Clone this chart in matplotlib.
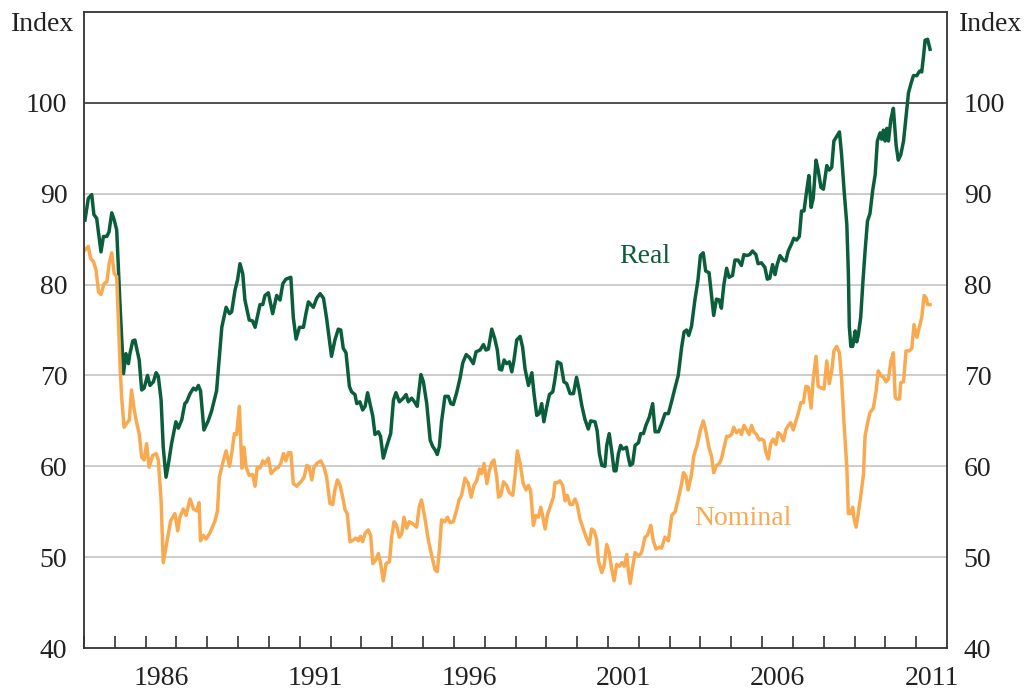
import matplotlib
matplotlib.use('Agg')
import matplotlib.pyplot as plt
import numpy as np

plt.rcParams['font.family'] = ['Liberation Serif', 'DejaVu Serif']

# 实际指数（日期为小数年份）
real_dates = [
    1984.03, 1984.14, 1984.25, 1984.32, 1984.41, 1984.55, 1984.63, 1984.74, 1984.81, 1984.90,
    1984.98, 1985.06, 1985.17, 1985.28, 1985.36, 1985.44, 1985.49, 1985.58, 1985.65, 1985.79,
    1985.87, 1985.95, 1986.06, 1986.14, 1986.25, 1986.34, 1986.41, 1986.50, 1986.57, 1986.66,
    1986.74, 1986.84, 1986.98, 1987.06, 1987.17, 1987.27, 1987.33, 1987.44, 1987.55, 1987.63,
    1987.71, 1987.78, 1987.89, 1988.03, 1988.14, 1988.30, 1988.47, 1988.61, 1988.72, 1988.79,
    1988.90, 1988.98, 1989.06, 1989.15, 1989.22, 1989.36, 1989.47, 1989.55, 1989.71, 1989.80,
    1989.87, 1989.98, 1990.12, 1990.25, 1990.36, 1990.45, 1990.55, 1990.71, 1990.79, 1990.88,
    1990.99, 1991.12, 1991.20, 1991.28, 1991.44, 1991.55, 1991.66, 1991.77, 1991.87, 1992.03,
    1992.14, 1992.25, 1992.33, 1992.41, 1992.50, 1992.61, 1992.68, 1992.79, 1992.85, 1992.95,
    1993.04, 1993.12, 1993.20, 1993.28, 1993.37, 1993.44, 1993.55, 1993.62, 1993.71, 1993.82,
    1993.95, 1994.04, 1994.12, 1994.23, 1994.36, 1994.45, 1994.52, 1994.63, 1994.72, 1994.81,
    1994.93, 1995.01, 1995.12, 1995.23, 1995.31, 1995.39, 1995.46, 1995.53, 1995.60, 1995.71,
    1995.82, 1995.90, 1995.98, 1996.09, 1996.20, 1996.29, 1996.40, 1996.50, 1996.63, 1996.72,
    1996.85, 1996.96, 1997.04, 1997.12, 1997.23, 1997.33, 1997.41, 1997.48, 1997.55, 1997.63,
    1997.71, 1997.80, 1997.88, 1997.95, 1998.04, 1998.15, 1998.23, 1998.31, 1998.42, 1998.53,
    1998.60, 1998.69, 1998.77, 1998.85, 1998.92, 1999.01, 1999.10, 1999.21, 1999.28, 1999.36,
    1999.47, 1999.57, 1999.66, 1999.77, 1999.88, 1999.98, 2000.07, 2000.15, 2000.25, 2000.36,
    2000.44, 2000.58, 2000.65, 2000.72, 2000.80, 2000.90, 2000.96, 2001.04, 2001.12, 2001.20,
    2001.26, 2001.34, 2001.41, 2001.48, 2001.55, 2001.60, 2001.66, 2001.72, 2001.80, 2001.88,
    2001.99, 2002.06, 2002.15, 2002.23, 2002.34, 2002.45, 2002.53, 2002.64, 2002.74, 2002.85,
    2002.96, 2003.07, 2003.18, 2003.28, 2003.39, 2003.47, 2003.55, 2003.62, 2003.71, 2003.82,
    2003.92, 2004.00, 2004.09, 2004.17, 2004.28, 2004.36, 2004.43, 2004.52, 2004.61, 2004.68,
    2004.76, 2004.85, 2004.93, 2005.04, 2005.12, 2005.22, 2005.33, 2005.41, 2005.50, 2005.60,
    2005.69, 2005.80, 2005.87, 2005.98, 2006.09, 2006.17, 2006.25, 2006.34, 2006.42, 2006.49,
    2006.58, 2006.69, 2006.77, 2006.85, 2006.96, 2007.03, 2007.12, 2007.21, 2007.28, 2007.36,
    2007.45, 2007.52, 2007.59, 2007.66, 2007.75, 2007.82, 2007.91, 2007.99, 2008.10, 2008.18,
    2008.26, 2008.33, 2008.42, 2008.51, 2008.58, 2008.66, 2008.75, 2008.80, 2008.83, 2008.88,
    2008.94, 2009.02, 2009.07, 2009.12, 2009.20, 2009.27, 2009.34, 2009.42, 2009.50, 2009.59,
    2009.67, 2009.74, 2009.83, 2009.88, 2009.94, 2009.99, 2010.05, 2010.10, 2010.18, 2010.26,
    2010.35, 2010.42, 2010.50, 2010.59, 2010.67, 2010.75, 2010.83, 2010.91, 2011.02, 2011.11,
    2011.18, 2011.24, 2011.29, 2011.37, 2011.45,
]
real_values = [
    87.1, 89.5, 89.9, 87.7, 87.3, 83.6, 85.3, 85.3, 85.8, 87.9,
    87.1, 86.0, 77.6, 70.2, 72.4, 71.3, 72.4, 73.8, 73.9, 71.7,
    68.4, 68.6, 70.0, 68.9, 69.3, 70.3, 69.9, 67.3, 62.1, 58.8,
    60.3, 62.5, 64.9, 64.2, 65.1, 66.9, 67.1, 68.0, 68.6, 68.4,
    68.9, 68.3, 64.0, 65.0, 66.1, 68.3, 75.3, 77.5, 76.8, 77.0,
    79.4, 80.5, 82.3, 81.2, 78.3, 76.1, 76.0, 75.3, 77.8, 77.8,
    78.8, 79.1, 76.8, 78.8, 78.3, 80.1, 80.6, 80.8, 76.4, 74.0,
    75.3, 75.3, 76.8, 78.1, 77.5, 78.5, 79.0, 78.5, 76.3, 72.1,
    73.9, 75.1, 75.0, 73.0, 72.5, 68.8, 68.2, 67.9, 66.9, 67.1,
    66.2, 66.6, 68.1, 66.9, 65.5, 63.5, 63.8, 63.3, 60.9, 62.2,
    63.6, 67.3, 68.1, 67.1, 67.5, 67.9, 67.1, 67.5, 67.1, 66.6,
    70.1, 69.3, 66.9, 62.9, 62.2, 61.8, 61.3, 62.2, 64.9, 67.7,
    67.7, 66.9, 66.8, 68.1, 69.7, 71.4, 72.3, 72.0, 71.3, 72.6,
    72.8, 73.4, 72.8, 72.9, 75.1, 74.0, 72.8, 70.7, 70.6, 71.7,
    71.3, 71.5, 70.4, 71.7, 73.9, 74.3, 73.1, 70.7, 68.9, 70.3,
    68.0, 65.6, 65.8, 66.9, 64.9, 66.5, 67.9, 68.2, 69.6, 71.5,
    71.3, 69.3, 69.1, 68.0, 68.0, 69.8, 68.3, 66.7, 65.2, 64.1,
    65.0, 64.9, 63.9, 61.4, 60.1, 60.0, 62.3, 63.6, 61.7, 59.5,
    59.5, 61.4, 62.3, 61.9, 62.0, 62.1, 61.0, 60.1, 60.3, 62.3,
    62.6, 63.6, 63.6, 64.5, 65.4, 66.9, 63.8, 63.8, 64.7, 65.8,
    65.8, 67.2, 68.7, 70.0, 73.1, 74.8, 75.0, 74.4, 75.4, 78.3,
    80.5, 83.2, 83.5, 81.5, 81.3, 78.8, 76.6, 78.4, 78.3, 77.4,
    80.0, 81.8, 80.8, 81.0, 82.7, 82.7, 82.1, 83.3, 83.2, 83.3,
    83.7, 83.3, 82.3, 82.4, 81.9, 80.6, 80.7, 82.2, 81.1, 82.2,
    83.2, 82.7, 82.6, 83.7, 84.5, 85.1, 84.9, 85.3, 88.1, 88.1,
    90.4, 92.0, 88.5, 89.5, 93.7, 92.6, 90.7, 90.5, 93.1, 92.6,
    92.9, 95.8, 96.3, 96.8, 94.3, 90.4, 86.6, 81.2, 75.4, 73.2,
    73.2, 74.9, 73.7, 74.4, 76.4, 80.2, 83.6, 87.0, 87.8, 90.4,
    92.1, 95.8, 96.7, 96.0, 97.0, 95.8, 97.2, 95.8, 98.2, 99.4,
    95.3, 93.7, 94.3, 95.8, 98.4, 101.1, 102.1, 103.0, 103.0, 103.5,
    103.4, 105.2, 106.9, 107.0, 105.9,
]

# 名义指数
nominal_dates = [
    1984.03, 1984.14, 1984.21, 1984.31, 1984.39, 1984.47, 1984.55, 1984.65, 1984.74, 1984.82,
    1984.90, 1984.98, 1985.06, 1985.17, 1985.22, 1985.30, 1985.38, 1985.47, 1985.54, 1985.63,
    1985.70, 1985.79, 1985.87, 1985.95, 1986.03, 1986.11, 1986.23, 1986.34, 1986.41, 1986.50,
    1986.57, 1986.66, 1986.74, 1986.81, 1986.95, 1987.04, 1987.11, 1987.22, 1987.31, 1987.44,
    1987.55, 1987.66, 1987.73, 1987.78, 1987.87, 1987.96, 1988.09, 1988.25, 1988.33, 1988.39,
    1988.52, 1988.61, 1988.72, 1988.79, 1988.88, 1988.95, 1989.04, 1989.12, 1989.19, 1989.26,
    1989.36, 1989.47, 1989.55, 1989.62, 1989.71, 1989.80, 1989.87, 1989.98, 1990.07, 1990.20,
    1990.31, 1990.38, 1990.47, 1990.55, 1990.63, 1990.71, 1990.79, 1990.90, 1991.06, 1991.14,
    1991.23, 1991.31, 1991.39, 1991.46, 1991.55, 1991.68, 1991.79, 1991.87, 1991.98, 1992.07,
    1992.14, 1992.22, 1992.31, 1992.41, 1992.47, 1992.54, 1992.63, 1992.74, 1992.82, 1992.90,
    1992.97, 1993.04, 1993.12, 1993.22, 1993.30, 1993.37, 1993.47, 1993.55, 1993.62, 1993.71,
    1993.80, 1993.91, 1993.98, 1994.06, 1994.14, 1994.23, 1994.31, 1994.38, 1994.47, 1994.55,
    1994.66, 1994.79, 1994.88, 1994.95, 1995.06, 1995.17, 1995.28, 1995.39, 1995.46, 1995.53,
    1995.60, 1995.71, 1995.79, 1995.88, 1995.98, 1996.09, 1996.17, 1996.25, 1996.36, 1996.47,
    1996.56, 1996.65, 1996.74, 1996.83, 1996.90, 1996.98, 1997.07, 1997.15, 1997.23, 1997.30,
    1997.39, 1997.45, 1997.52, 1997.61, 1997.71, 1997.80, 1997.91, 1997.98, 1998.06, 1998.15,
    1998.25, 1998.34, 1998.42, 1998.49, 1998.58, 1998.66, 1998.74, 1998.82, 1998.89, 1998.96,
    1999.03, 1999.12, 1999.23, 1999.28, 1999.36, 1999.44, 1999.53, 1999.61, 1999.68, 1999.77,
    1999.85, 1999.93, 2000.00, 2000.09, 2000.20, 2000.29, 2000.39, 2000.47, 2000.55, 2000.63,
    2000.69, 2000.80, 2000.88, 2000.96, 2001.04, 2001.12, 2001.20, 2001.28, 2001.37, 2001.45,
    2001.53, 2001.61, 2001.66, 2001.72, 2001.80, 2001.88, 2001.99, 2002.09, 2002.20, 2002.28,
    2002.39, 2002.47, 2002.56, 2002.67, 2002.74, 2002.85, 2002.96, 2003.07, 2003.18, 2003.28,
    2003.39, 2003.45, 2003.53, 2003.60, 2003.71, 2003.78, 2003.89, 2004.00, 2004.09, 2004.17,
    2004.28, 2004.36, 2004.43, 2004.52, 2004.61, 2004.68, 2004.76, 2004.85, 2004.93, 2005.01,
    2005.08, 2005.17, 2005.26, 2005.33, 2005.41, 2005.50, 2005.58, 2005.66, 2005.73, 2005.82,
    2005.91, 2005.98, 2006.06, 2006.12, 2006.20, 2006.28, 2006.36, 2006.45, 2006.52, 2006.60,
    2006.69, 2006.77, 2006.85, 2006.93, 2007.01, 2007.10, 2007.18, 2007.26, 2007.34, 2007.42,
    2007.50, 2007.59, 2007.66, 2007.75, 2007.82, 2007.93, 2008.01, 2008.10, 2008.18, 2008.26,
    2008.33, 2008.42, 2008.51, 2008.58, 2008.66, 2008.75, 2008.80, 2008.88, 2008.94, 2008.98,
    2009.05, 2009.12, 2009.20, 2009.29, 2009.34, 2009.42, 2009.50, 2009.61, 2009.70, 2009.77,
    2009.85, 2009.94, 2010.02, 2010.10, 2010.18, 2010.26, 2010.32, 2010.37, 2010.46, 2010.50,
    2010.59, 2010.67, 2010.78, 2010.86, 2010.93, 2011.02, 2011.11, 2011.18, 2011.26, 2011.33,
    2011.37, 2011.45,
]
nominal_values = [
    83.8, 84.2, 82.9, 82.5, 81.6, 79.2, 78.9, 80.1, 80.3, 82.4,
    83.5, 81.2, 80.9, 71.0, 67.6, 64.3, 64.7, 65.1, 68.4, 66.2,
    64.9, 63.6, 61.0, 60.7, 62.5, 59.9, 61.2, 61.4, 60.7, 56.3,
    49.4, 51.1, 52.6, 54.0, 54.8, 52.9, 54.4, 55.3, 54.6, 56.4,
    55.3, 55.1, 56.0, 51.8, 52.4, 52.0, 52.7, 54.0, 55.1, 58.8,
    60.6, 61.7, 60.0, 61.4, 63.6, 63.5, 66.6, 59.8, 62.1, 59.9,
    59.0, 59.1, 57.8, 59.9, 59.8, 60.6, 60.3, 60.9, 59.2, 59.7,
    59.9, 60.3, 61.4, 60.6, 61.5, 61.5, 58.1, 57.8, 58.4, 58.8,
    60.1, 59.9, 58.5, 59.9, 60.3, 60.6, 59.9, 58.8, 55.9, 55.8,
    57.4, 58.5, 57.9, 56.3, 55.2, 54.8, 51.7, 51.9, 52.1, 51.8,
    52.3, 51.7, 52.6, 53.0, 52.4, 49.3, 49.7, 50.4, 49.4, 47.4,
    49.3, 49.5, 52.2, 53.9, 53.5, 52.2, 52.6, 54.4, 53.2, 53.9,
    53.7, 53.3, 55.6, 56.3, 54.3, 51.9, 50.2, 48.6, 48.4, 50.8,
    54.1, 53.9, 54.4, 53.8, 53.9, 55.2, 56.3, 56.8, 58.7, 58.1,
    56.6, 57.9, 58.4, 59.7, 59.2, 60.3, 58.1, 59.5, 60.4, 60.7,
    58.8, 56.6, 56.8, 58.3, 57.9, 57.1, 56.8, 58.8, 61.7, 60.3,
    58.1, 57.4, 57.9, 57.3, 53.5, 54.6, 54.4, 55.5, 54.4, 53.1,
    54.6, 55.5, 56.6, 58.2, 58.2, 58.4, 57.9, 56.2, 56.8, 55.8,
    55.8, 56.4, 55.8, 54.2, 53.1, 52.2, 51.4, 53.1, 52.9, 52.0,
    49.6, 48.3, 49.2, 51.4, 50.5, 48.7, 47.4, 49.2, 49.0, 49.4,
    49.0, 50.3, 48.5, 47.1, 48.9, 50.5, 50.1, 50.5, 52.2, 52.4,
    53.5, 51.8, 50.9, 51.1, 51.0, 52.2, 51.8, 54.6, 55.0, 56.4,
    58.1, 59.3, 58.9, 57.4, 59.1, 61.1, 62.3, 64.0, 65.0, 64.0,
    62.0, 61.1, 59.3, 60.1, 60.3, 60.8, 62.0, 63.3, 63.3, 63.5,
    64.3, 63.7, 64.0, 63.5, 64.5, 64.0, 63.5, 64.5, 63.8, 63.5,
    62.9, 63.0, 62.8, 61.6, 60.8, 62.5, 63.0, 62.4, 63.7, 63.5,
    62.8, 64.0, 64.5, 64.8, 64.0, 65.0, 65.9, 67.0, 67.0, 68.8,
    68.7, 66.4, 69.6, 72.1, 68.8, 68.6, 68.5, 71.6, 69.1, 70.5,
    72.7, 73.2, 72.5, 69.6, 64.7, 59.9, 54.8, 54.8, 55.5, 54.3,
    53.3, 54.8, 56.7, 59.1, 63.3, 64.7, 65.9, 66.4, 68.3, 70.5,
    70.0, 69.8, 69.3, 69.6, 71.6, 72.5, 67.6, 67.4, 67.4, 69.2,
    69.3, 72.7, 72.7, 73.0, 75.6, 74.2, 75.4, 76.4, 78.8, 78.5,
    77.8, 77.8,
]

tick_years = list(range(1984, 2012))
label_years = [1986, 1991, 1996, 2001, 2006, 2011]
y_ticks = [40, 50, 60, 70, 80, 90, 100]

real_color = '#0b5e3c'
nominal_color = '#f9aa50'

fig = plt.figure(figsize=(10.26, 6.91), dpi=100)
ax = fig.add_axes([0.0819, 0.0622, 0.8411, 0.9204])

ax.plot(real_dates, real_values, color=real_color, linewidth=2.5)
ax.plot(nominal_dates, nominal_values, color=nominal_color, linewidth=2.5)

ax.set_xlim(1984, 2012)
ax.set_ylim(40, 110)

# 网格线：50~90 灰色，100 黑色
for v in y_ticks[1:-1]:
    ax.axhline(v, color='#c4c4c4', linewidth=1.2, zorder=0)
ax.axhline(100, color='#222222', linewidth=1.1, zorder=0)

# x 轴：每年一个刻度，标签放在年份中间
ax.set_xticks(tick_years)
ax.set_xticklabels([])
ax.set_xticks([y + 0.5 for y in label_years], minor=True)
ax.set_xticklabels([str(y) for y in label_years], minor=True, fontsize=20, color='#222222')
ax.tick_params(axis='x', which='major', direction='in', length=9, width=1.2, color='#333333')
ax.tick_params(axis='x', which='minor', length=0, pad=13)

# 左右两侧都有 y 轴标签
ax.set_yticks(y_ticks)
ax.set_yticklabels([str(v) for v in y_ticks], fontsize=20, color='#222222')
ax.tick_params(axis='y', length=0, pad=12, labelright=True, labelleft=True)

for sp in ax.spines.values():
    sp.set_color('#333333')
    sp.set_linewidth(1.3)

ax.text(-0.048, 0.98, 'Index', transform=ax.transAxes, ha='center', va='center',
        fontsize=20, color='#222222')
ax.text(1.05, 0.98, 'Index', transform=ax.transAxes, ha='center', va='center',
        fontsize=20, color='#222222')

ax.text(2002.2, 83.1, 'Real', color=real_color, fontsize=20, ha='center', va='center')
ax.text(2005.38, 54.3, 'Nominal', color=nominal_color, fontsize=20, ha='center', va='center')

fig.savefig('out.png', dpi=100)
